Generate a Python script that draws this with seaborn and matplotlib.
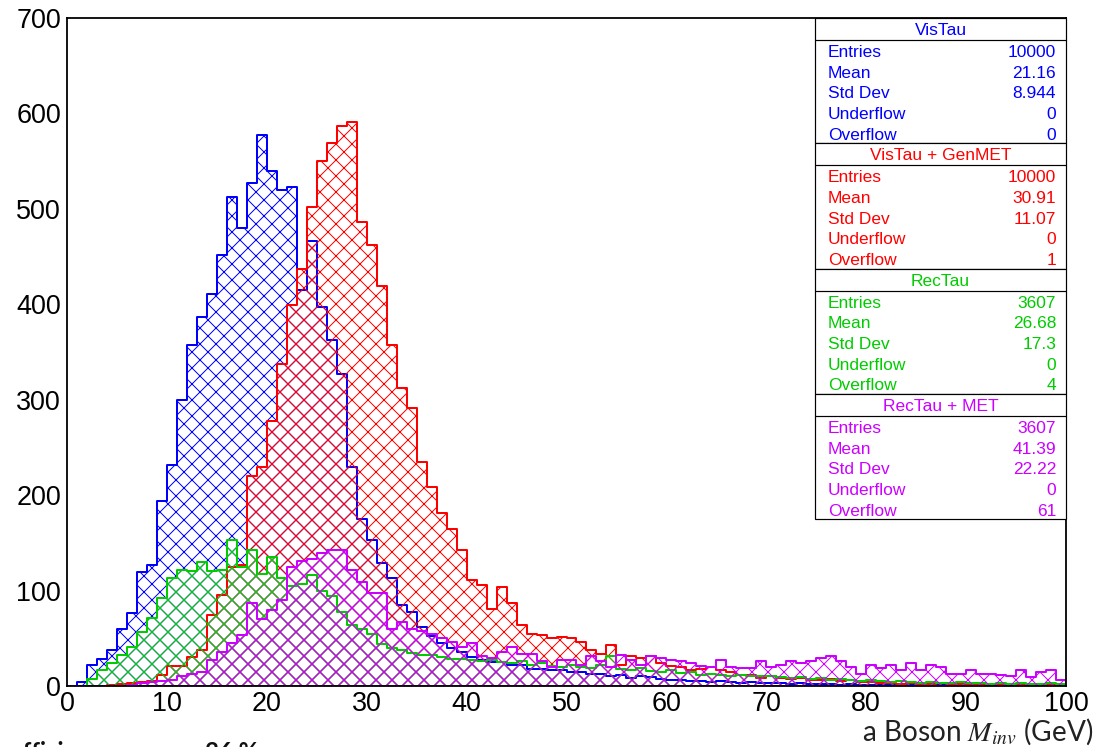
import numpy as np
import pandas as pd
import matplotlib
matplotlib.use("Agg")
import matplotlib.pyplot as plt
import seaborn as sns
from matplotlib.patches import Rectangle
from matplotlib.ticker import MultipleLocator

# 1 GeV bins from 0 to 100 GeV
n_bins = 100
bin_range = (0, 100)
centers = np.arange(n_bins) + 0.5

vis_tau = [
    0, 4, 22, 28, 38, 60, 77, 119, 127, 194,
    232, 300, 357, 387, 411, 452, 512, 480, 527, 577,
    540, 520, 523, 415, 466, 397, 363, 327, 230, 175,
    153, 129, 113, 85, 78, 62, 52, 45, 40, 36,
    30, 27, 25, 25, 22, 22, 18, 18, 17, 17,
    15, 15, 13, 13, 10, 12, 8, 10, 9, 7,
    6, 6, 5, 5, 4, 5, 4, 3, 4, 3,
    3, 3, 2, 3, 2, 2, 2, 1, 2, 1,
    1, 1, 1, 0, 1, 1, 0, 1, 0, 0,
    1, 0, 0, 1, 0, 0, 0, 0, 0, 0,
]

vis_tau_genmet = [
    0, 0, 0, 0, 1, 2, 3, 4, 5, 12,
    21, 21, 30, 38, 74, 95, 125, 127, 220, 230,
    278, 337, 399, 437, 502, 550, 569, 587, 591, 486,
    462, 419, 357, 312, 291, 235, 209, 181, 165, 143,
    111, 106, 81, 104, 87, 64, 55, 53, 50, 51,
    50, 46, 38, 34, 43, 22, 31, 29, 31, 24,
    21, 20, 17, 18, 20, 17, 15, 12, 12, 8,
    10, 8, 7, 8, 6, 6, 7, 5, 6, 4,
    4, 3, 3, 2, 3, 2, 2, 3, 2, 2,
    1, 2, 2, 1, 2, 1, 1, 2, 1, 1,
]

rec_tau = [
    0, 0, 7, 17, 24, 32, 41, 57, 71, 92,
    113, 122, 120, 130, 120, 122, 153, 125, 143, 117,
    135, 113, 105, 107, 116, 100, 94, 78, 64, 60,
    55, 44, 40, 38, 35, 33, 32, 30, 28, 28,
    27, 26, 27, 25, 24, 26, 22, 24, 21, 20,
    22, 20, 19, 22, 31, 18, 17, 19, 16, 15,
    17, 14, 15, 12, 13, 12, 11, 12, 10, 11,
    10, 9, 8, 9, 7, 8, 6, 7, 6, 5,
    6, 5, 4, 5, 4, 3, 4, 3, 3, 4,
    3, 3, 2, 3, 2, 3, 2, 2, 3, 2,
]

rec_tau_met = [
    0, 0, 0, 0, 0, 0, 1, 3, 4, 5,
    6, 10, 13, 15, 27, 36, 45, 53, 87, 70,
    80, 90, 125, 131, 133, 139, 143, 143, 122, 109,
    97, 97, 60, 67, 60, 58, 55, 50, 46, 41,
    45, 31, 29, 36, 41, 34, 34, 26, 20, 27,
    27, 22, 31, 26, 20, 32, 27, 22, 31, 29,
    27, 26, 24, 21, 20, 27, 20, 19, 19, 26,
    20, 22, 26, 24, 26, 29, 31, 26, 20, 13,
    22, 19, 22, 17, 24, 17, 22, 20, 13, 13,
    17, 13, 13, 12, 11, 17, 9, 15, 17, 6,
]

series_names = ["VisTau", "VisTau + GenMET", "RecTau", "RecTau + MET"]
series_counts = [vis_tau, vis_tau_genmet, rec_tau, rec_tau_met]
series_colors = ["#0000ff", "#ff0000", "#00cc00", "#cc00ff"]

stat_labels = ["Entries", "Mean", "Std Dev", "Underflow", "Overflow"]
stat_values = [
    ["10000", "21.16", "8.944", "0", "0"],
    ["10000", "30.91", "11.07", "0", "1"],
    ["3607", "26.68", "17.3", "0", "4"],
    ["3607", "41.39", "22.22", "0", "61"],
]

x_ticks = list(range(0, 101, 10))
y_ticks = list(range(0, 701, 100))

sns.set_style("white")
plt.rcParams["font.family"] = ["Liberation Sans", "DejaVu Sans"]
plt.rcParams["mathtext.fontset"] = "stix"
plt.rcParams["hatch.linewidth"] = 0.5

W, H, DPI = 1097, 747, 144
fig = plt.figure(figsize=(W / DPI, H / DPI), dpi=DPI)
fig.patch.set_facecolor("white")

# frame in pixel terms
L, R, T, B = 67, 1066, 18, 686
ax = fig.add_axes([L / W, 1 - B / H, (R - L) / W, (B - T) / H])
ax.set_facecolor("white")

for name, counts, color in zip(series_names, series_counts, series_colors):
    df = pd.DataFrame({"mass": centers, "count": counts})
    with plt.rc_context({"hatch.color": color}):
        sns.histplot(
            data=df, x="mass", weights="count", bins=n_bins, binrange=bin_range,
            element="step", fill=True, color=color, facecolor="none",
            edgecolor=color, hatch="xxx", linewidth=1.0, ax=ax,
        )

ax.set_xlim(0, 100)
ax.set_ylim(0, 700)
ax.set_xticks(x_ticks)
ax.set_yticks(y_ticks)
ax.xaxis.set_minor_locator(MultipleLocator(2))
ax.yaxis.set_minor_locator(MultipleLocator(20))
ax.set_xlabel("")
ax.set_ylabel("")
ax.tick_params(axis="both", which="both", direction="in", top=False, right=False,
               color="black", width=0.75, labelsize=13.5, labelcolor="black")
ax.tick_params(axis="y", which="major", length=15, pad=3)
ax.tick_params(axis="y", which="minor", length=8)
ax.tick_params(axis="x", which="major", length=10, pad=2.5)
ax.tick_params(axis="x", which="minor", length=5)
for sp in ax.spines.values():
    sp.set_visible(True)
    sp.set_color("black")
    sp.set_linewidth(0.9)


def ax_x(px):
    return (px - L) / (R - L)


def ax_y(py):
    return (B - py) / (B - T)


# statistics boxes
box_left, box_right = 815, R
box_h = 125.3
for i, (name, color, vals) in enumerate(zip(series_names, series_colors, stat_values)):
    top = T + box_h * i
    bottom = top + box_h
    ax.add_patch(Rectangle(
        (ax_x(box_left), ax_y(bottom)), ax_x(box_right) - ax_x(box_left),
        ax_y(top) - ax_y(bottom), transform=ax.transAxes, facecolor="white",
        edgecolor="black", linewidth=0.6, clip_on=False, zorder=10))
    ax.plot([ax_x(box_left), ax_x(box_right)], [ax_y(top + 22)] * 2,
            transform=ax.transAxes, color="black", linewidth=0.6,
            clip_on=False, zorder=11)
    ax.text(ax_x((box_left + box_right) / 2), ax_y(top + 11 + 6), name,
            color=color, ha="center", va="baseline", fontsize=8.7,
            transform=ax.transAxes, zorder=12)
    for j, (lab, val) in enumerate(zip(stat_labels, vals)):
        yb = ax_y(top + 33 + 20.7 * j + 6)
        ax.text(ax_x(828), yb, lab, color=color, ha="left", va="baseline",
                fontsize=8.7, transform=ax.transAxes, zorder=12)
        ax.text(ax_x(1056), yb, val, color=color, ha="right", va="baseline",
                fontsize=8.7, transform=ax.transAxes, zorder=12)

fig.text(1093 / W, 1 - 741 / H, "a Boson $M_{inv}$ (GeV)", ha="right",
         va="baseline", fontsize=14, family=["Lato", "DejaVu Sans"], color="#222222")

# line of text running off the bottom edge
fig.text(10 / W, 1 - 760 / H, "efficiency", ha="left", va="baseline",
         fontsize=12, fontweight="bold", family=["Lato", "DejaVu Sans"], color="#111111")
fig.text(205 / W, 1 - 760 / H, "36 %", ha="left", va="baseline",
         fontsize=12, fontweight="bold", family=["Lato", "DejaVu Sans"], color="#111111")

fig.savefig("out.png", dpi=DPI, facecolor="white")
